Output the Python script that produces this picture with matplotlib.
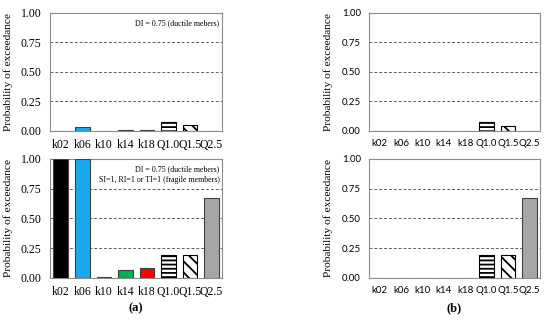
import matplotlib
matplotlib.use('Agg')
import matplotlib.pyplot as plt

# 数据
labels = ['k02', 'k06', 'k10', 'k14', 'k18', 'Q1.0', 'Q1.5', 'Q2.5']
top_left = [0.0, 0.03, 0.0, 0.004, 0.004, 0.08, 0.05, 0.0]
bottom_left = [1.0, 1.0, 0.01, 0.065, 0.085, 0.19, 0.19, 0.67]
top_right = [0.0, 0.0, 0.0, 0.0, 0.0, 0.08, 0.045, 0.0]
bottom_right = [0.0, 0.003, 0.003, 0.0, 0.003, 0.19, 0.19, 0.67]
yticks = [0.0, 0.25, 0.5, 0.75, 1.0]

colors = ['#000000', '#1aa9ec', '#7f7f7f', '#00b050', '#ff0000', 'white', 'white', '#a6a6a6']
hatches = [None, None, None, None, None, '----', '\\\\\\', None]

plt.rcParams['hatch.linewidth'] = 1.3
plt.rcParams['hatch.color'] = 'black'

fig = plt.figure(figsize=(5.5, 3.21), dpi=100)

serif = ['Liberation Serif', 'DejaVu Serif']
sans = ['Lato', 'DejaVu Sans']


def draw(ax, vals, tick_font, tick_size, notes=None):
    x = range(len(labels))
    bars = ax.bar(x, vals, width=0.68, color=colors, edgecolor='#404040', linewidth=0.8, zorder=3)
    for b, h in zip(bars, hatches):
        if h:
            b.set_hatch(h)
            b.set_edgecolor('black')
    ax.set_xlim(-0.5, len(labels) - 0.5)
    ax.set_ylim(0, 1.0)
    ax.set_yticks(yticks)
    ax.set_yticklabels([f'{v:.2f}' for v in yticks], family=tick_font, fontsize=tick_size)
    ax.set_xticks(list(x))
    ax.set_xticklabels(labels, family=tick_font, fontsize=tick_size)
    ax.tick_params(length=0, pad=6)
    for yv in [0.25, 0.5, 0.75]:
        ax.axhline(yv, color='#606060', linestyle=(0, (3, 2)), linewidth=0.7, zorder=1)
    for s in ax.spines.values():
        s.set_color('#8c8c8c')
        s.set_linewidth(0.8)
    ax.set_ylabel('Probability of exceedance', family=serif, fontsize=8.2, labelpad=6)
    if notes:
        ax.text(0.985, 0.95, notes, transform=ax.transAxes, ha='right', va='top',
                family=serif, fontsize=5.7, linespacing=1.6)


ax1 = fig.add_axes([0.091, 0.592, 0.313, 0.368])
draw(ax1, top_left, serif, 8.5, 'DI = 0.75 (ductile mebers)')
ax2 = fig.add_axes([0.091, 0.134, 0.313, 0.371])
draw(ax2, bottom_left, serif, 8.5, 'DI = 0.75 (ductile mebers)\nSI=1, RI=1 or TI=1 (fragile members)')
ax3 = fig.add_axes([0.671, 0.592, 0.311, 0.368])
draw(ax3, top_right, sans, 7.0)
ax4 = fig.add_axes([0.671, 0.134, 0.311, 0.371])
draw(ax4, bottom_right, sans, 7.0)

fig.text(0.247, 0.040, '(a)', ha='center', va='center', family=serif, fontsize=9, fontweight='bold')
fig.text(0.826, 0.040, '(b)', ha='center', va='center', family=serif, fontsize=9, fontweight='bold')

fig.savefig('out.png', dpi=100, facecolor='white')
